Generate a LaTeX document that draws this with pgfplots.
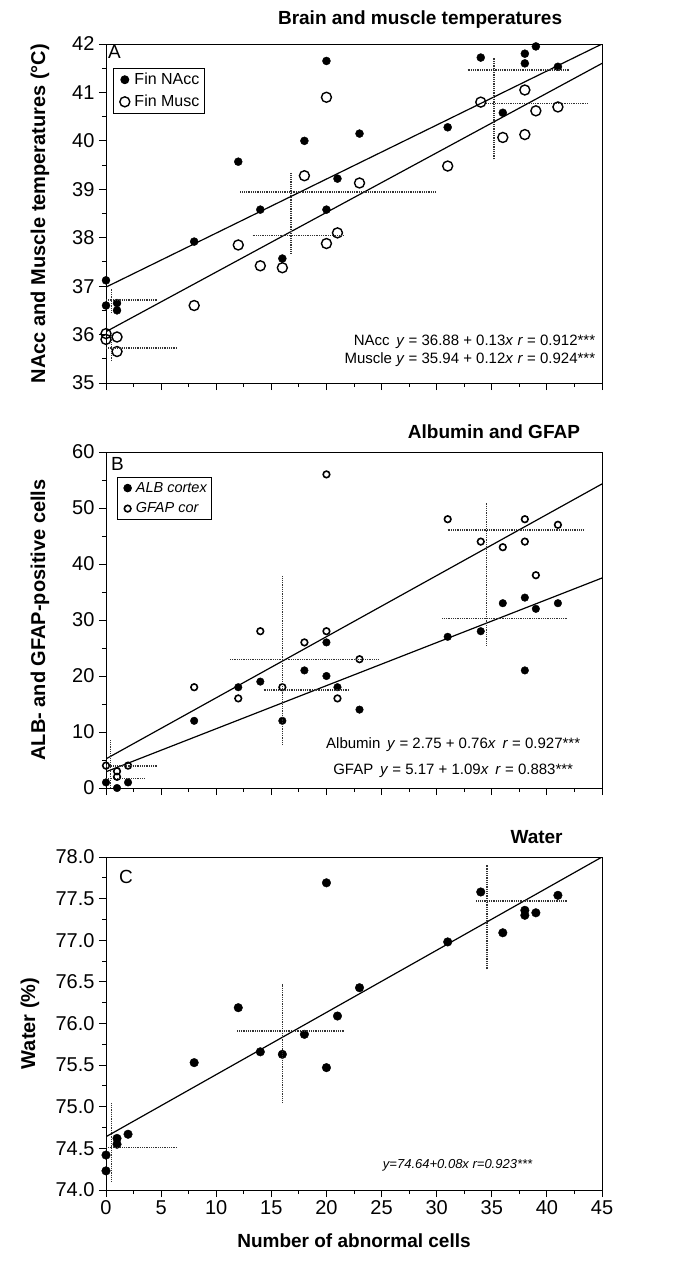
\documentclass[border=0pt]{standalone}
\usepackage{fontspec}
\setmainfont{Liberation Sans}
\usepackage{pgfplots}
\pgfplotsset{compat=1.18}

\newcommand{\fs}[1]{\fontsize{#1}{#1}\selectfont}

\pgfplotsset{
  base/.style={
    width=496pt, scale only axis, clip mode=individual,
    xmin=0, xmax=45,
    xtick={0,5,...,45}, minor x tick num=1,
    tick align=outside, tick pos=left,
    major tick length=7pt, minor tick length=4pt,
    every tick/.style={black, line width=0.9pt},
    axis line style={line width=1pt},
    tick label style={font=\fs{20}},
    yticklabel style={xshift=-1pt},
    /pgf/number format/assume math mode=true,
    xticklabels={},
  },
  regl/.style={black, line width=1.2pt, no marks},
  dots/.style={black!80, line width=1.4pt, dash pattern=on 1pt off 0.8pt, no marks},
  fill1/.style={only marks, mark=*, mark size=4pt, mark options={fill=black, draw=black}},
  open1/.style={only marks, mark=o, mark size=5pt, mark options={draw=black, line width=1.4pt, fill=white}},
  fill2/.style={only marks, mark=*, mark size=3.8pt, mark options={fill=black, draw=black}},
  open2/.style={only marks, mark=o, mark size=3.3pt, mark options={draw=black, line width=1.6pt, fill=white}},
}

\begin{document}
\begin{tikzpicture}
\useasboundingbox (0,0) rectangle (692pt,-1263pt);

% ---------------- Panel A ----------------
\begin{axis}[base, at={(106pt,-44pt)}, anchor=north west, height=339pt,
  ymin=35, ymax=42, ytick={35,...,42}, minor y tick num=1,
  legend style={at={(rel axis cs:0.014,0.93)}, anchor=north west, draw=black, line width=0.9pt,
    font=\fs{16}, inner sep=3pt, row sep=5pt, legend cell align=left},
  legend image code/.code={\draw[#1] (0pt,0pt) -- plot coordinates {(0.28cm,0cm)};},
]
\addplot[fill1] coordinates {(0,37.12)(0,36.6)(1,36.65)(1,36.5)(8,37.92)(12,39.57)(14,38.58)(16,37.57)(18,40.0)(20,41.65)(20,38.58)(21,39.22)(23,40.15)(31,40.28)(34,41.72)(36,40.58)(38,41.8)(38,41.6)(39,41.95)(41,41.53)};
\addlegendentry{\,Fin NAcc}
\addplot[open1] coordinates {(0,36.02)(0,35.9)(1,35.95)(1,35.65)(8,36.6)(12,37.85)(14,37.42)(16,37.38)(18,39.28)(20,40.9)(20,37.88)(21,38.1)(23,39.13)(31,39.48)(34,40.8)(36,40.07)(38,41.05)(38,40.13)(39,40.62)(41,40.7)};
\addlegendentry{\,Fin Musc}
\addplot[regl, forget plot] coordinates {(0,36.98)(45,42.0)};
\addplot[regl, forget plot] coordinates {(0,36.06)(45,41.6)};
\addplot[dots, forget plot] coordinates {(0,36.71)(4.7,36.71)};
\addplot[dots, forget plot] coordinates {(0.5,36.45)(0.5,36.95)};
\addplot[dots, forget plot] coordinates {(0,35.72)(6.5,35.72)};
\addplot[dots, forget plot] coordinates {(0.5,35.45)(0.5,36.0)};
\addplot[dots, forget plot] coordinates {(12.2,38.94)(30,38.94)};
\addplot[dots, forget plot] coordinates {(16.8,37.67)(16.8,39.34)};
\addplot[dots, forget plot] coordinates {(13.3,38.05)(21.6,38.05)};
\addplot[dots, forget plot] coordinates {(32.8,41.46)(42,41.46)};
\addplot[dots, forget plot] coordinates {(35.2,39.62)(35.2,41.72)};
\addplot[dots, forget plot] coordinates {(34.5,40.77)(43.8,40.77)};
\node[anchor=north west, font=\fs{19}, inner sep=1pt] at ([xshift=1pt]rel axis cs:0,1) {A};
\node[anchor=east, font=\fs{15}, inner sep=0pt] at (axis cs:44.4,35.85) {NAcc\, \textit{y} = 36.88 + 0.13\textit{x} \textit{r} = 0.912***};
\node[anchor=east, font=\fs{15}, inner sep=0pt] at (axis cs:44.4,35.48) {Muscle \textit{y} = 35.94 + 0.12\textit{x} \textit{r} = 0.924***};
\node[anchor=east, font=\bfseries\fs{19}, inner sep=0pt] at ([yshift=24pt]rel axis cs:0.92,1) {Brain and muscle temperatures};
\node[rotate=90, font=\bfseries\fs{20}, inner sep=0pt] at ([xshift=-66pt]rel axis cs:0,0.5) {NAcc and Muscle temperatures (°C)};
\end{axis}

% ---------------- Panel B ----------------
\begin{axis}[base, at={(106pt,-452pt)}, anchor=north west, height=336pt,
  ymin=0, ymax=60, ytick={0,10,...,60}, minor y tick num=1,
  legend style={at={(rel axis cs:0.022,0.926)}, anchor=north west, draw=black, line width=0.9pt,
    font=\itshape\fs{14.5}, inner sep=3pt, row sep=5pt, legend cell align=left},
  legend image code/.code={\draw[#1] (0pt,0pt) -- plot coordinates {(0.24cm,0cm)};},
]
\addplot[fill2] coordinates {(0,1)(1,0)(2,1)(8,12)(12,18)(14,19)(16,12)(18,21)(20,26)(20,20)(21,18)(23,14)(31,27)(34,28)(36,33)(38,34)(38,21)(39,32)(41,33)};
\addlegendentry{\,ALB cortex}
\addplot[open2] coordinates {(0,4)(1,3)(1,2)(2,4)(8,18)(12,16)(14,28)(16,18)(18,26)(20,56)(20,28)(21,16)(23,23)(31,48)(34,44)(36,43)(38,48)(38,44)(39,38)(41,47)};
\addlegendentry{\,GFAP cor}
\addplot[regl, forget plot] coordinates {(0,5.2)(45,54.3)};
\addplot[regl, forget plot] coordinates {(0,2.9)(45,37.5)};
\addplot[dots, forget plot] coordinates {(31,46.1)(43.4,46.1)};
\addplot[dots, forget plot] coordinates {(34.5,25.4)(34.5,51.1)};
\addplot[dots, forget plot] coordinates {(30.5,30.3)(41.9,30.3)};
\addplot[dots, forget plot] coordinates {(11.25,22.9)(24.7,22.9)};
\addplot[dots, forget plot] coordinates {(16,7.7)(16,37.9)};
\addplot[dots, forget plot] coordinates {(14.3,17.5)(22.1,17.5)};
\addplot[dots, forget plot] coordinates {(0,3.9)(4.7,3.9)};
\addplot[dots, forget plot] coordinates {(0,1.7)(3.5,1.7)};
\addplot[dots, forget plot] coordinates {(0.4,0)(0.4,8.6)};
\node[anchor=north west, font=\fs{19}, inner sep=1pt] at ([xshift=4pt,yshift=-4pt]rel axis cs:0,1) {B};
\node[font=\fs{15}, inner sep=0pt] at (axis cs:31.5,7.7) {Albumin\, \textit{y} = 2.75 + 0.76\textit{x}\, \textit{r} = 0.927***};
\node[font=\fs{15}, inner sep=0pt] at (axis cs:31.5,3.0) {GFAP\, \textit{y} = 5.17 + 1.09\textit{x}\, \textit{r} = 0.883***};
\node[anchor=east, font=\bfseries\fs{19}, inner sep=0pt] at ([yshift=20pt]rel axis cs:0.956,1) {Albumin and GFAP};
\node[rotate=90, font=\bfseries\fs{20}, inner sep=0pt] at ([xshift=-66pt]rel axis cs:0,0.5) {ALB- and GFAP-positive cells};
\end{axis}

% ---------------- Panel C ----------------
\begin{axis}[base, at={(106pt,-857pt)}, anchor=north west, height=333pt,
  ymin=74, ymax=78, ytick={74,74.5,...,78}, minor y tick num=1,
  yticklabel style={/pgf/number format/.cd, fixed, fixed zerofill, precision=1},
  xticklabels={0,5,10,15,20,25,30,35,40,45},
  xlabel={Number of abnormal cells},
  xlabel style={font=\bfseries\fs{19}, yshift=-12pt},
]
\addplot[fill1, mark size=4.3pt] coordinates {(0,74.42)(0,74.23)(1,74.62)(1,74.55)(2,74.67)(8,75.53)(12,76.19)(14,75.66)(16,75.63)(18,75.87)(20,77.69)(20,75.47)(21,76.09)(23,76.43)(31,76.98)(34,77.58)(36,77.09)(38,77.36)(38,77.30)(39,77.33)(41,77.54)};
\addplot[regl] coordinates {(0,74.64)(45,78.0)};
\addplot[dots] coordinates {(33.6,77.47)(41.9,77.47)};
\addplot[dots] coordinates {(34.55,76.65)(34.55,77.91)};
\addplot[dots] coordinates {(11.9,75.91)(21.6,75.91)};
\addplot[dots] coordinates {(16,75.05)(16,76.48)};
\addplot[dots] coordinates {(0,74.51)(6.4,74.51)};
\addplot[dots] coordinates {(0.5,74.1)(0.5,75.05)};
\node[anchor=north west, font=\fs{19}, inner sep=1pt] at ([xshift=12pt,yshift=-12pt]rel axis cs:0,1) {C};
\node[font=\itshape\fs{13}, inner sep=0pt] at (axis cs:31.9,74.30) {y=74.64+0.08x r=0.923***};
\node[anchor=east, font=\bfseries\fs{19}, inner sep=0pt] at ([yshift=20pt]rel axis cs:0.921,1) {Water};
\node[rotate=90, font=\bfseries\fs{20}, inner sep=0pt] at ([xshift=-76pt]rel axis cs:0,0.5) {Water (\%)};
\end{axis}
\end{tikzpicture}
\end{document}
